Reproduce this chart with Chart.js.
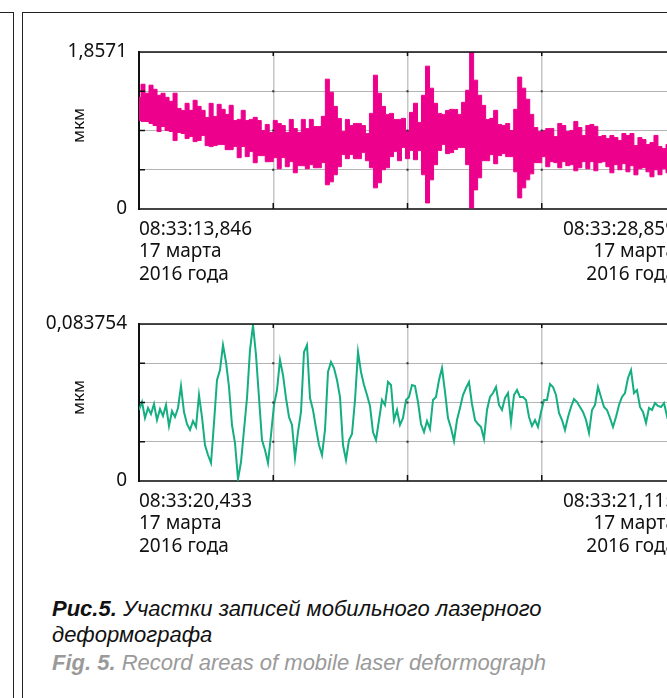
<!DOCTYPE html>
<html lang="ru">
<head>
<meta charset="UTF-8">
<title>Рис.5. Участки записей мобильного лазерного деформографа</title>
<script src="https://cdn.jsdelivr.net/npm/chart.js"></script>
<style>
  html, body { margin: 0; padding: 0; background: #fff; }
  body { width: 667px; height: 698px; overflow: hidden; position: relative; }
  .frame-left { position: absolute; left: -20px; top: 12px; width: 33px; height: 720px; border-top: 1px solid #222; border-right: 1px solid #222; }
  .frame-main { position: absolute; left: 22px; top: 12px; width: 720px; height: 720px; border-top: 1px solid #222; border-left: 1px solid #222; }
  canvas { position: absolute; left: 0; }
  #topChart { top: 0; }
  #bottomChart { top: 272px; }
  .cap { position: absolute; left: 52px; font-family: "Liberation Sans", Arial, sans-serif; font-style: italic; font-size: 22px; line-height: 22px; white-space: nowrap; color: #111; }
  .cap b { font-weight: bold; }
  .en { color: #9a9a9a; }
</style>
</head>
<body>
<div class="frame-left"></div>
<div class="frame-main"></div>

<canvas id="topChart" width="686" height="289"></canvas>
<canvas id="bottomChart" width="686" height="289"></canvas>

<div class="cap" style="top:598px"><b>Рис.5.</b> Участки записей мобильного лазерного</div>
<div class="cap" style="top:624px">деформографа</div>
<div class="cap en" style="top:652px"><b>Fig. 5.</b> Record areas of mobile laser deformograph</div>

<script>
// --- data ---

// top record: 15,013 s, envelope of the signal (upper / lower), мкм
const topDuration = 15.013;
const topMax = 1.8571;
const topHi = [
  1.321, 1.476, 1.369, 1.465, 1.416, 1.345, 1.369, 1.321, 1.274, 1.370,
  1.190, 1.166, 1.250, 1.167, 1.286, 1.214, 1.167, 1.083, 1.250, 1.095,
  1.238, 1.179, 1.119, 1.227, 1.047, 1.060, 1.167, 1.047, 1.060, 1.084,
  1.047, 0.928, 1.000, 0.905, 1.048, 1.012, 0.988, 0.904, 1.060, 0.952,
  0.904, 1.060, 0.952, 1.060, 0.976, 0.976, 1.096, 1.536, 1.381, 1.214,
  1.071, 0.916, 1.060, 0.988, 1.012, 1.012, 0.988, 0.892, 1.131, 1.583,
  1.369, 1.214, 1.119, 1.131, 1.059, 1.060, 1.072, 0.928, 1.143, 1.251,
  1.024, 1.345, 1.690, 1.429, 1.250, 1.131, 1.119, 1.166, 1.179, 1.178,
  1.119, 1.262, 1.405, 1.857, 1.524, 1.345, 1.226, 1.059, 1.072, 1.167,
  1.000, 0.988, 1.012, 0.928, 1.179, 1.560, 1.429, 1.298, 1.119, 0.964,
  0.916, 0.929, 0.952, 0.953, 0.857, 1.012, 0.988, 0.916, 0.929, 1.036,
  0.964, 0.868, 0.988, 1.000, 0.977, 0.857, 0.869, 0.833, 0.869, 0.845,
  0.809, 0.893, 0.869, 0.893, 0.750, 0.845, 0.822, 0.762, 0.786, 0.870,
  0.738, 0.714, 0.762, 0.750, 0.786
];
const topLo = [
  1.048, 1.036, 1.035, 1.012, 0.988, 0.916, 0.977, 0.928, 0.917, 0.809,
  0.905, 0.893, 0.833, 0.857, 0.797, 0.810, 0.870, 0.750, 0.738, 0.750,
  0.762, 0.762, 0.702, 0.702, 0.738, 0.607, 0.739, 0.619, 0.679, 0.547,
  0.631, 0.631, 0.559, 0.560, 0.607, 0.476, 0.608, 0.500, 0.560, 0.428,
  0.512, 0.512, 0.476, 0.524, 0.488, 0.488, 0.548, 0.286, 0.321, 0.405,
  0.500, 0.643, 0.595, 0.643, 0.595, 0.595, 0.667, 0.571, 0.488, 0.250,
  0.310, 0.464, 0.488, 0.619, 0.679, 0.571, 0.727, 0.595, 0.691, 0.583,
  0.690, 0.405, 0.071, 0.345, 0.524, 0.691, 0.762, 0.655, 0.666, 0.703,
  0.726, 0.727, 0.524, 0.012, 0.226, 0.369, 0.572, 0.571, 0.643, 0.535,
  0.631, 0.655, 0.619, 0.619, 0.440, 0.131, 0.250, 0.345, 0.416, 0.548,
  0.548, 0.619, 0.500, 0.560, 0.548, 0.488, 0.560, 0.512, 0.524, 0.452,
  0.488, 0.560, 0.476, 0.560, 0.452, 0.548, 0.560, 0.500, 0.428, 0.524,
  0.464, 0.536, 0.440, 0.512, 0.404, 0.476, 0.489, 0.440, 0.381, 0.464,
  0.405, 0.477, 0.428, 0.465, 0.404
];

// bottom record: 0,682 s, мкм
const bottomDuration = 0.682;
const bottomMax = 0.083754;
const bottomVals = [
  0.03788, 0.04214, 0.03361, 0.03894, 0.03574, 0.04108, 0.03254, 0.03841, 0.03468, 0.04054,
  0.02934, 0.03734, 0.03414, 0.03894, 0.05068, 0.03681, 0.03041, 0.02721, 0.03201, 0.02881,
  0.04588, 0.03414, 0.01920, 0.01387, 0.00960, 0.03094, 0.05388, 0.05922, 0.07255, 0.06348,
  0.05015, 0.02987, 0.02027, 0.00107, 0.01014, 0.02721, 0.04428, 0.06988, 0.08322, 0.06722,
  0.04428, 0.02187, 0.01654, 0.00960, 0.02454, 0.04054, 0.04855, 0.06455, 0.05655, 0.04428,
  0.03414, 0.02987, 0.01227, 0.02614, 0.03681, 0.06882, 0.07255, 0.04428, 0.03788, 0.02827,
  0.01920, 0.01387, 0.02721, 0.05815, 0.06348, 0.06028, 0.05388, 0.04481, 0.01920, 0.01120,
  0.02187, 0.02507, 0.04321, 0.06882, 0.05815, 0.05121, 0.04588, 0.04001, 0.02614, 0.02187,
  0.03254, 0.04321, 0.04054, 0.05281, 0.05121, 0.03254, 0.03788, 0.02987, 0.03361, 0.04321,
  0.04481, 0.05121, 0.05068, 0.04214, 0.03041, 0.02614, 0.03201, 0.02774, 0.04321, 0.04481,
  0.05388, 0.06028, 0.04748, 0.03361, 0.02827, 0.02134, 0.03254, 0.03894, 0.04588, 0.04961,
  0.05281, 0.04108, 0.03254, 0.03041, 0.02881, 0.02241, 0.03788, 0.04481, 0.04695, 0.05015,
  0.04054, 0.03788, 0.04428, 0.04695, 0.03147, 0.04588, 0.04855, 0.04481, 0.04481, 0.04321,
  0.03414, 0.02934, 0.03254, 0.02881, 0.03681, 0.04321, 0.04321, 0.05175, 0.05015, 0.04588,
  0.03628, 0.03254, 0.02721, 0.03414, 0.03948, 0.04374, 0.04214, 0.03948, 0.03681, 0.03254,
  0.02561, 0.03788, 0.04054, 0.05015, 0.04481, 0.03948, 0.03788, 0.03361, 0.02881, 0.03414,
  0.04054, 0.04481, 0.04695, 0.05495, 0.05922, 0.04695, 0.04855, 0.03948, 0.03681, 0.03094,
  0.03894, 0.03788, 0.04161, 0.04001, 0.03948, 0.04161, 0.03468, 0.03894, 0.03681, 0.03841
];

// tick labels
const topXLabels = [['08:33:13,846', '17 марта', '2016 года'], ['08:33:28,859', '17 марта', '2016 года']];
const bottomXLabels = [['08:33:20,433', '17 марта', '2016 года'], ['08:33:21,115', '17 марта', '2016 года']];
const topYLabels = ['0', '1,8571'];
const bottomYLabels = ['0', '0,083754'];
const yTitle = 'мкм';

const MAGENTA = '#ec008c';
const GREEN = '#14ae80';
const tickFont = { family: '"Noto Sans", sans-serif', size: 19, lineHeight: 1.16 };

function toPoints(vals, duration) {
  const dt = duration / (vals.length - 1);
  return vals.map((v, i) => ({ x: i * dt, y: v }));
}

// box top/right edge, short inward ticks, dots where grid lines cross, unit label
const framePlugin = {
  id: 'frame',
  afterDraw(chart) {
    const { ctx, chartArea: a, scales: { x, y } } = chart;
    const line = (x1, y1, x2, y2) => { ctx.beginPath(); ctx.moveTo(x1, y1); ctx.lineTo(x2, y2); ctx.stroke(); };
    ctx.save();
    ctx.strokeStyle = '#111';
    ctx.lineWidth = 1.5;
    line(a.left - 1, a.top, a.right, a.top);
    line(a.right, a.top, a.right, a.bottom);
    const xs = x.ticks.slice(1, -1).map(t => x.getPixelForValue(t.value));
    const ys = y.ticks.slice(1, -1).map(t => y.getPixelForValue(t.value));
    xs.forEach(px => { line(px, a.bottom, px, a.bottom - 6); line(px, a.top, px, a.top + 4); });
    ys.forEach(py => { line(a.left, py, a.left + 6, py); });
    ctx.fillStyle = '#333';
    xs.forEach(px => ys.forEach(py => ctx.fillRect(px - 1, py - 1, 2, 2)));

    ctx.translate(79, (a.top + a.bottom) / 2 - 5);
    ctx.rotate(-Math.PI / 2);
    ctx.fillStyle = '#111';
    ctx.font = '17px "Noto Sans", sans-serif';
    ctx.textAlign = 'center';
    ctx.textBaseline = 'middle';
    ctx.fillText(yTitle, 0, 0);
    ctx.restore();
  }
};

function makeChart(id, datasets, duration, yMax, xLabels, yLabels) {
  return new Chart(document.getElementById(id), {
    type: 'line',
    data: { datasets },
    plugins: [framePlugin],
    options: {
      responsive: false,
      animation: false,
      events: [],
      layout: { padding: { top: 52, right: 1, left: 0, bottom: 0 } },
      plugins: { legend: { display: false }, tooltip: { enabled: false } },
      elements: { point: { radius: 0 }, line: { tension: 0 } },
      scales: {
        x: {
          type: 'linear',
          min: 0,
          max: duration,
          afterBuildTicks: s => { s.ticks = [0, 1, 2, 3, 4].map(k => ({ value: duration * k / 4 })); },
          afterFit: s => { s.height = 80; },
          grid: { color: '#c6c6c6', lineWidth: 1.5, drawTicks: false },
          border: { color: '#444', width: 2 },
          ticks: {
            autoSkip: false,
            maxRotation: 0,
            align: 'inner',
            padding: 10,
            color: '#111',
            font: tickFont,
            callback: (v, i, ticks) => i === 0 ? xLabels[0] : (i === ticks.length - 1 ? xLabels[1] : '')
          }
        },
        y: {
          min: 0,
          max: yMax,
          afterBuildTicks: s => { s.ticks = [0, 1, 2, 3, 4].map(k => ({ value: yMax * k / 4 })); },
          afterFit: s => { s.width = 139; },
          grid: { color: '#b4b4b4', lineWidth: 1, drawTicks: false },
          border: { color: '#111', width: 2 },
          ticks: {
            padding: 12,
            color: '#111',
            font: tickFont,
            callback: (v, i, ticks) => i === 0 ? yLabels[0] : (i === ticks.length - 1 ? yLabels[1] : '')
          }
        }
      }
    }
  });
}

makeChart('topChart', [
  { data: toPoints(topLo, topDuration), borderColor: MAGENTA, borderWidth: 1, stepped: 'middle', fill: false },
  { data: toPoints(topHi, topDuration), borderColor: MAGENTA, borderWidth: 1, stepped: 'middle', backgroundColor: MAGENTA, fill: '-1' }
], topDuration, topMax, topXLabels, topYLabels);

makeChart('bottomChart', [
  { data: toPoints(bottomVals, bottomDuration), borderColor: GREEN, borderWidth: 2, fill: false }
], bottomDuration, bottomMax, bottomXLabels, bottomYLabels);
</script>
</body>
</html>
